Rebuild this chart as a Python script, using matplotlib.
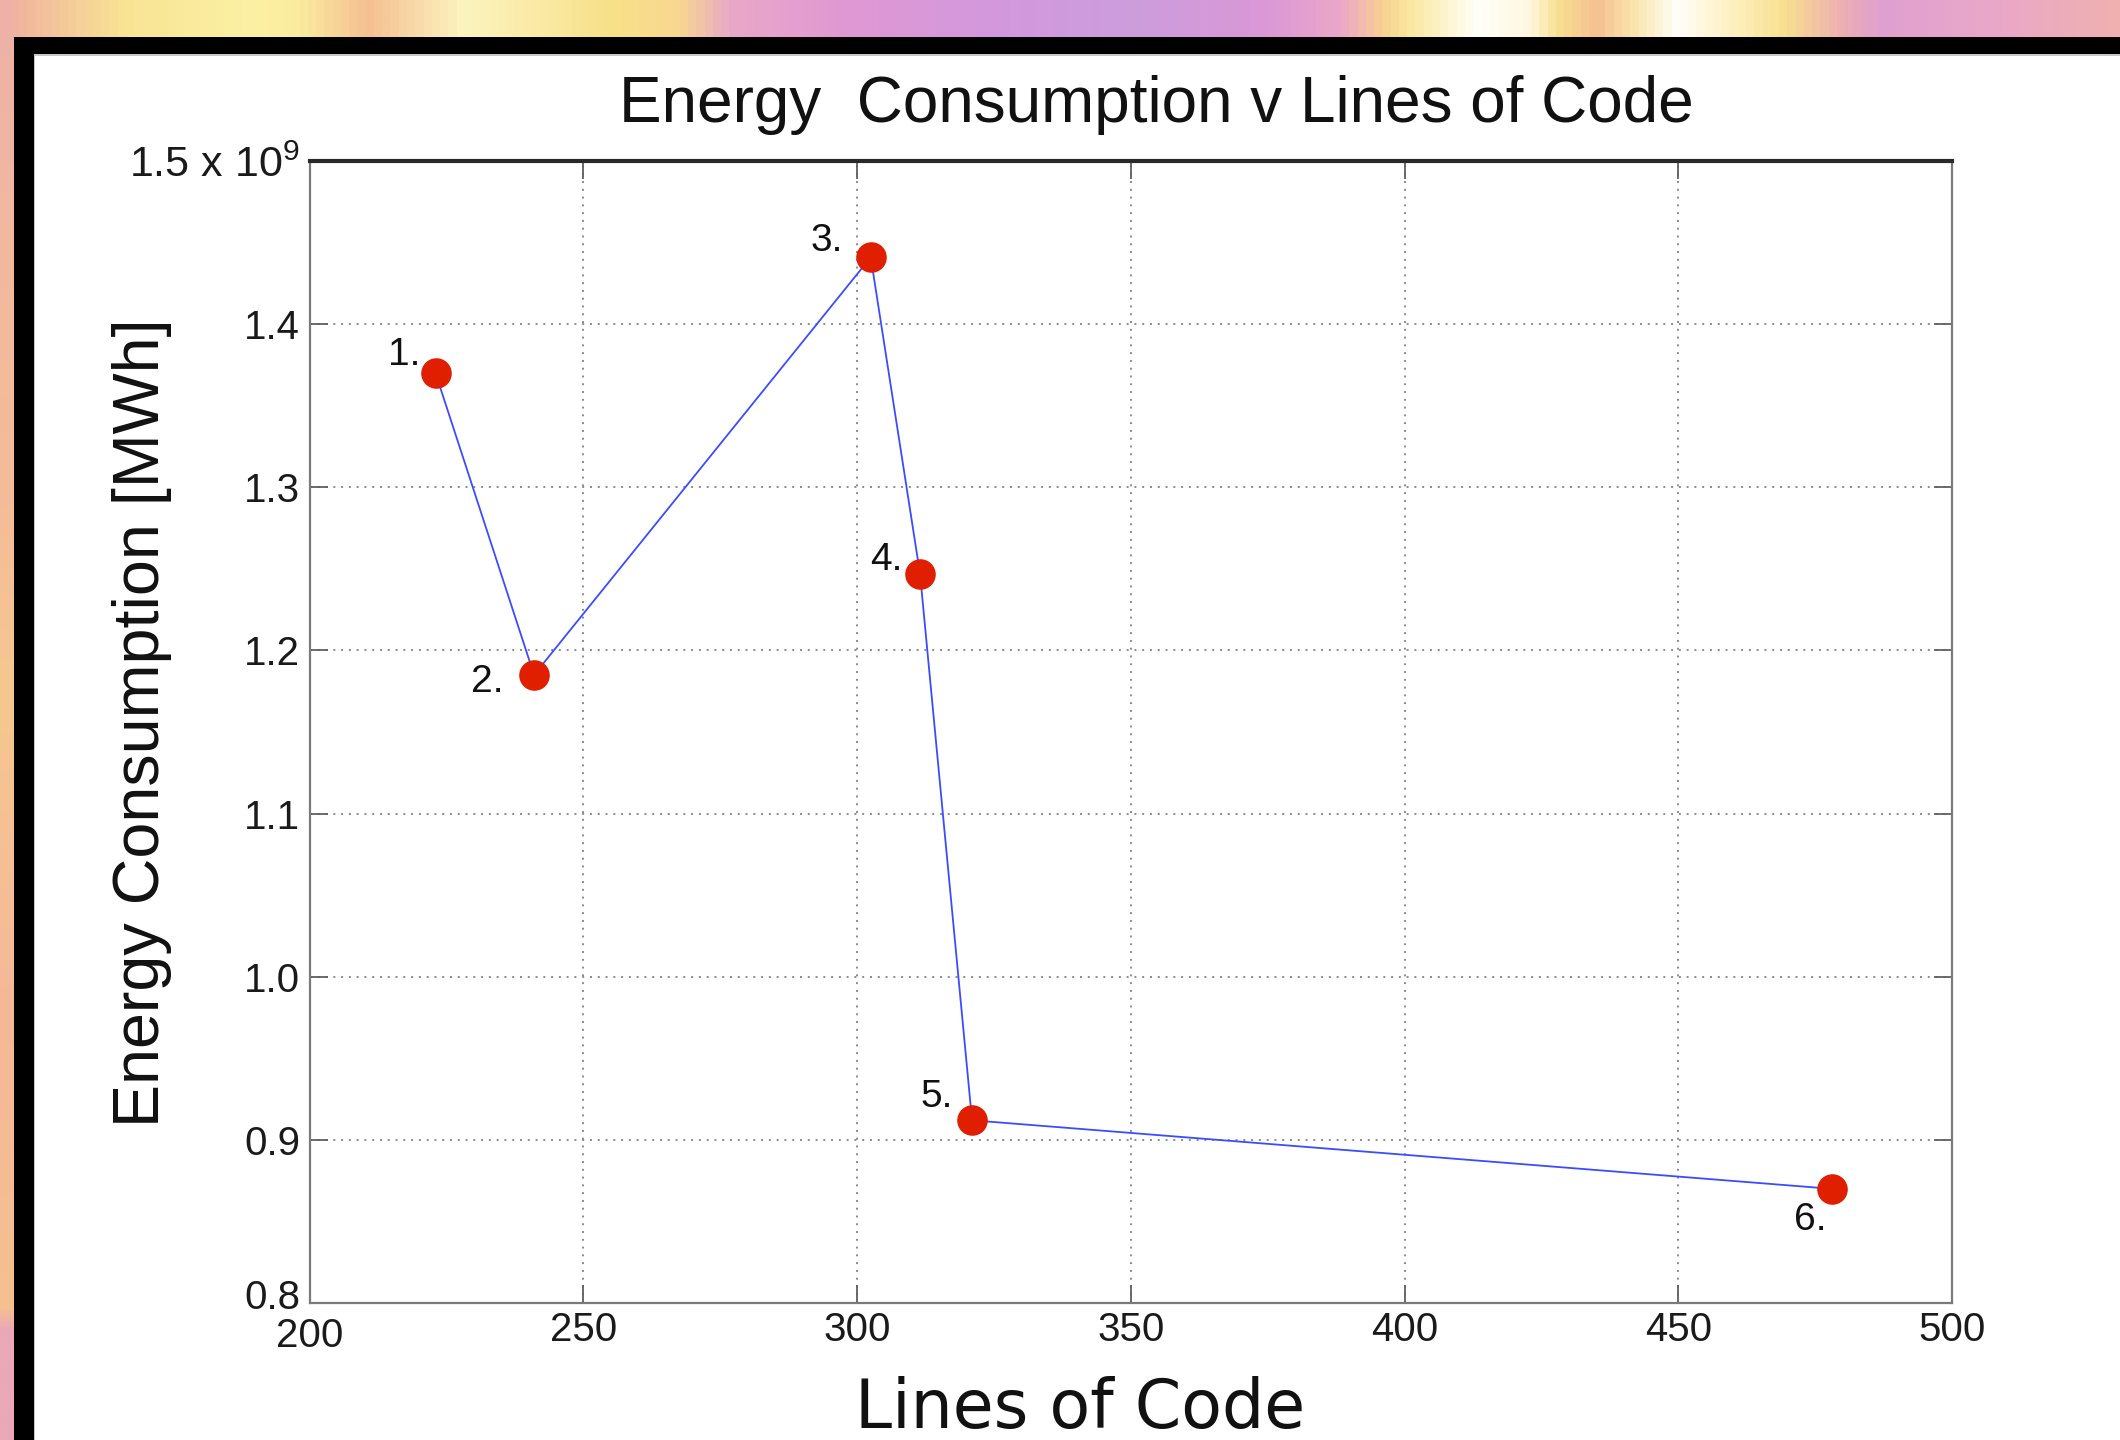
import numpy as np
import matplotlib
matplotlib.use("Agg")
import matplotlib.pyplot as plt
import matplotlib.transforms as mtransforms
from matplotlib.colors import LinearSegmentedColormap
from matplotlib.patches import Rectangle

# ---------------- data ----------------
point_labels = ["1.", "2.", "3.", "4.", "5.", "6."]
lines_of_code = [223, 241, 302.5, 311.5, 321, 478]
energy_mwh = [1.370e9, 1.185e9, 1.441e9, 1.247e9, 0.912e9, 0.870e9]

x_ticks = [200, 250, 300, 350, 400, 450, 500]
x_tick_labels = ["200", "250", "300", "350", "400", "450", "500"]
y_ticks = [0.8e9, 0.9e9, 1.0e9, 1.1e9, 1.2e9, 1.3e9, 1.4e9, 1.5e9]
y_tick_labels = ["0.8", "0.9", "1.0", "1.1", "1.2", "1.3", "1.4", "1.5 x $10^{9}$"]

title_text = "Energy  Consumption v Lines of Code"
x_label_text = "Lines of Code"
y_label_text = "Energy Consumption [MWh]"

# label offsets (pixels) for point annotations
label_offsets = [(-15, 18), (-31, -7), (-28, 16), (-18, 14), (-19, 23), (-5, -31)]

# ---------------- style ----------------
plt.rcParams["font.family"] = ["Liberation Sans", "DejaVu Sans"]
plt.rcParams["mathtext.fontset"] = "custom"
plt.rcParams["mathtext.rm"] = "Liberation Sans"
plt.rcParams["mathtext.default"] = "regular"

W, H = 2120, 1440
fig = plt.figure(figsize=(W / 100, H / 100), dpi=100)
fig.patch.set_facecolor("white")

# ---------------- decorative screenshot frame ----------------
bg = fig.add_axes([0, 0, 1, 1], zorder=-10)
bg.set_xlim(0, W)
bg.set_ylim(H, 0)
bg.axis("off")

top_stops = [
    (0.000, "#f0b0a0"), (0.057, "#f9e494"), (0.115, "#fbf0a4"), (0.137, "#fbeda0"),
    (0.172, "#f5c092"), (0.217, "#fcf4c0"), (0.288, "#f8e088"), (0.319, "#f8d890"),
    (0.344, "#eaa8c8"), (0.399, "#e098d4"), (0.462, "#d498dc"), (0.532, "#cc9ddc"),
    (0.596, "#da98d8"), (0.634, "#eca8c8"), (0.653, "#f8d090"), (0.666, "#fae8a0"),
    (0.698, "#fffff8"), (0.723, "#fff8e0"), (0.736, "#f8e090"), (0.755, "#f5c090"),
    (0.774, "#fbe8b0"), (0.793, "#fffffa"), (0.819, "#fff0c0"), (0.844, "#f8e090"),
    (0.870, "#eeb0b0"), (0.889, "#e0a0d0"), (0.947, "#eaa8c8"), (1.000, "#f0b0b0"),
]
top_cmap = LinearSegmentedColormap.from_list("top", top_stops)
bg.imshow(np.linspace(0, 1, 512)[None, :], cmap=top_cmap, aspect="auto",
          extent=(0, W, 38, 0), interpolation="bilinear")

left_stops = [
    (0.000, "#eeb0a8"), (0.15, "#f2b8a0"), (0.35, "#f4bc98"), (0.48, "#f5c890"),
    (0.70, "#f5b898"), (0.91, "#f5c090"), (0.925, "#eaa8b8"), (1.000, "#eaa8b8"),
]
left_cmap = LinearSegmentedColormap.from_list("left", left_stops)
bg.imshow(np.linspace(0, 1, 512)[:, None], cmap=left_cmap, aspect="auto",
          extent=(0, 14, H, 0), interpolation="bilinear")

bg.add_patch(Rectangle((13.5, 37), W, H, facecolor="black", edgecolor="none"))
bg.add_patch(Rectangle((34, 54), W, H, facecolor="#c8c8c8", edgecolor="none"))
bg.add_patch(Rectangle((35, 56), W, H, facecolor="white", edgecolor="none"))

# ---------------- main axes ----------------
ax = fig.add_axes([309.6 / W, 1 - 1303 / H, (1952 - 309.6) / W, (1303 - 161) / H])
ax.set_facecolor("white")

ax.plot(lines_of_code, energy_mwh, color="#3a4cff", lw=1.3, zorder=3)
ax.plot(lines_of_code, energy_mwh, linestyle="none", marker="o", markersize=21,
        markerfacecolor="#e01e00", markeredgecolor="#e01e00", zorder=4)

for lab, x, y, (dx, dy) in zip(point_labels, lines_of_code, energy_mwh, label_offsets):
    ax.annotate(lab, (x, y), xytext=(dx, dy), textcoords="offset pixels",
                ha="right", va="center", fontsize=28, color="#111111", zorder=5)

ax.set_xlim(200, 500)
ax.set_ylim(0.8e9, 1.5e9)
ax.set_xticks(x_ticks)
ax.set_xticklabels(x_tick_labels)
ax.set_yticks(y_ticks)
ax.set_yticklabels(y_tick_labels)

ax.grid(True, color="#8a8a8a", linestyle=(0, (1, 3)), linewidth=1.4)
ax.tick_params(axis="both", direction="in", length=13, width=1.3, color="#606060",
               labelsize=29, labelcolor="#1a1a1a", top=True, right=True)
ax.tick_params(axis="x", pad=6)
ax.tick_params(axis="y", pad=7)

# nudge the corner labels apart like the reference
ylabs = ax.get_yticklabels()
ylabs[0].set_transform(ylabs[0].get_transform() +
                       mtransforms.ScaledTranslation(0, 9 / 100, fig.dpi_scale_trans))
ylabs[-1].set_fontsize(31)
xlabs = ax.get_xticklabels()
xlabs[0].set_transform(xlabs[0].get_transform() +
                       mtransforms.ScaledTranslation(0, -6 / 100, fig.dpi_scale_trans))

for side in ["left", "right", "bottom"]:
    ax.spines[side].set_color("#7a7a7a")
    ax.spines[side].set_linewidth(1.6)
ax.spines["top"].set_color("#2a2a2a")
ax.spines["top"].set_linewidth(3)

# ---------------- titles / labels ----------------
fig.text(1156 / W, 1 - 105 / H, title_text, ha="center", va="center",
         fontsize=46, color="#111111")
fig.text(142 / W, 1 - 723 / H, y_label_text, ha="center", va="center",
         rotation=90, fontsize=46.5, color="#111111")
fig.text(1080 / W, 1 - 1409 / H, x_label_text, ha="center", va="center",
         fontsize=48, color="#111111", family="DejaVu Sans")

fig.savefig("out.png", dpi=100)
